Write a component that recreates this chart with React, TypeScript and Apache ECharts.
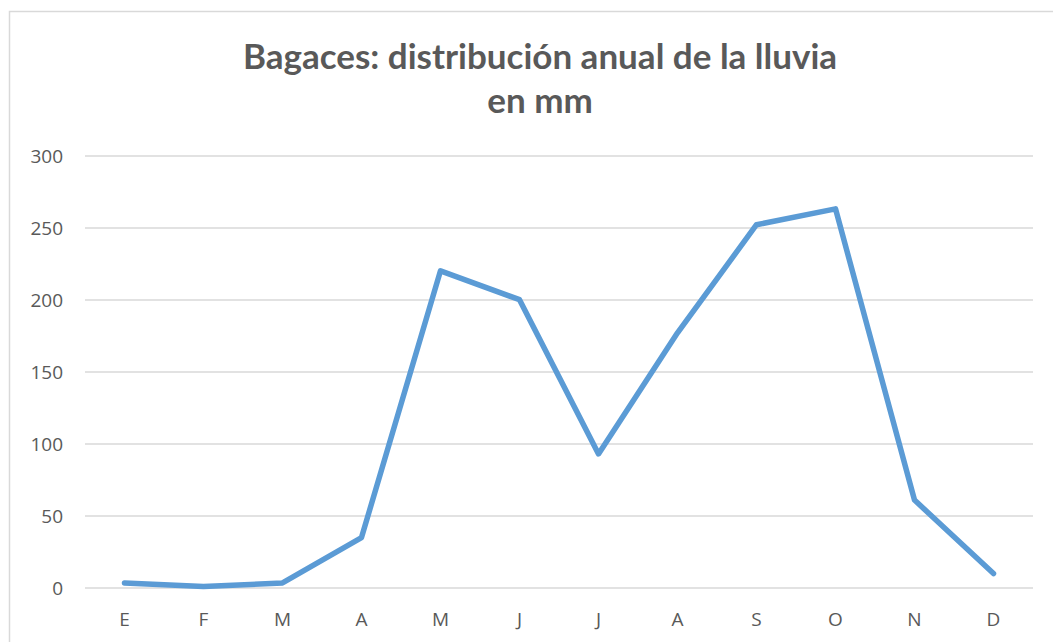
import React, { useEffect, useRef } from "react";
import * as echarts from "echarts";

const months = ["E", "F", "M", "A", "M", "J", "J", "A", "S", "O", "N", "D"];
const rainfall = [3.5, 1, 3.5, 35, 220, 200, 93, 177, 252, 263, 61, 10];
const titleText = "Bagaces: distribución anual de la lluvia\nen mm";

export default function App() {
  const ref = useRef<HTMLDivElement>(null);
  useEffect(() => {
    document.body.style.margin = "0";
    const chart = echarts.init(ref.current!, null, { renderer: "svg" });
    chart.setOption({
      animation: false,
      backgroundColor: "#ffffff",
      title: {
        text: titleText,
        left: 535,
        textAlign: "center",
        top: 28,
        textStyle: {
          fontFamily: "Lato",
          fontWeight: "bold",
          fontSize: 35,
          color: "#595959",
          lineHeight: 44,
        },
      },
      graphic: [
        {
          type: "rect",
          shape: { x: 9.5, y: 11.5, width: 1100, height: 700 },
          style: { fill: "none", stroke: "#d9d9d9", lineWidth: 1.5 },
          silent: true,
        },
      ],
      grid: { left: 85, right: 20, top: 155.5, bottom: 54 },
      xAxis: {
        type: "category",
        data: months,
        boundaryGap: true,
        axisLine: { show: false },
        axisTick: { show: false },
        axisLabel: {
          color: "#595959",
          fontFamily: "Open Sans",
          fontSize: 19,
          margin: 21,
        },
      },
      yAxis: {
        type: "value",
        min: 0,
        max: 300,
        interval: 50,
        axisLine: { show: false },
        axisTick: { show: false },
        axisLabel: {
          color: "#595959",
          fontFamily: "Open Sans",
          fontSize: 19,
          margin: 22,
        },
        splitLine: { lineStyle: { color: "#d9d9d9", width: 1.5 } },
      },
      series: [
        {
          type: "line",
          data: rainfall,
          showSymbol: false,
          symbol: "none",
          lineStyle: { color: "#5b9bd5", width: 5.5, cap: "round", join: "round" },
        },
      ],
    });
    return () => chart.dispose();
  }, []);
  return <div ref={ref} style={{ width: 1053, height: 642 }} />;
}
